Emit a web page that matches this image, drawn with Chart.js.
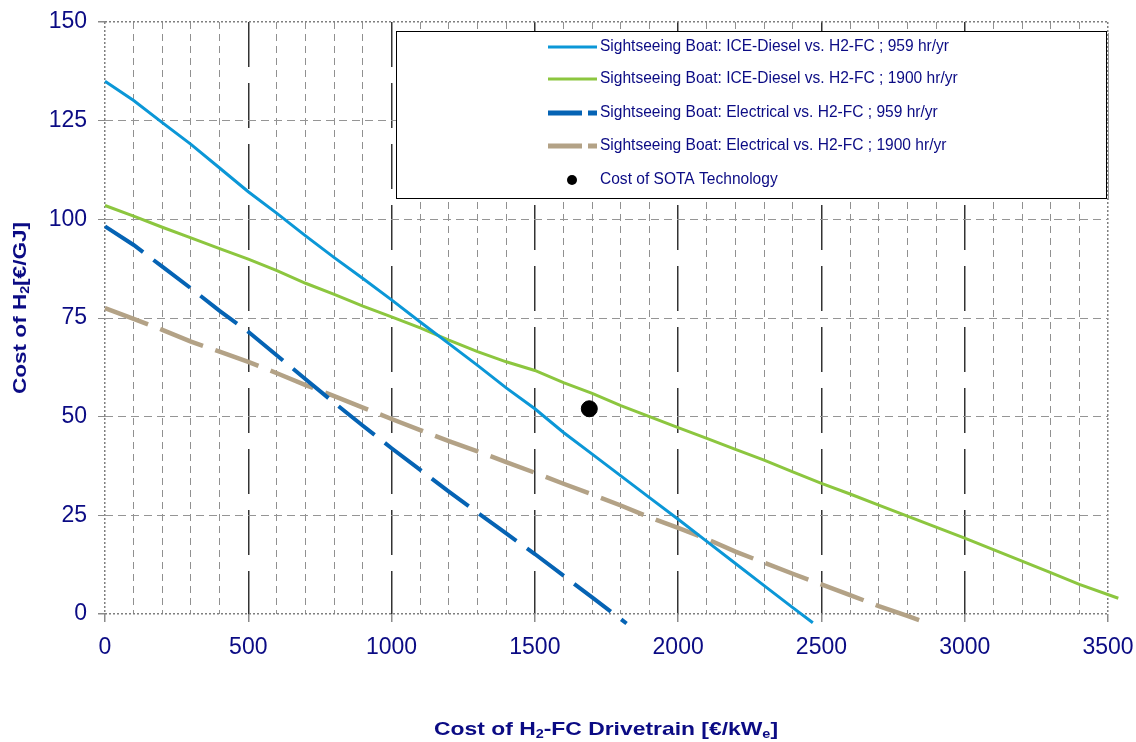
<!DOCTYPE html>
<html><head><meta charset="utf-8">
<script src="https://cdn.jsdelivr.net/npm/chart.js@4.4.1/dist/chart.umd.min.js"></script>
<style>html,body{margin:0;padding:0;background:#fff}#wrap{width:1136px;height:742px;position:relative}</style>
</head><body><div id="wrap"><canvas id="c" width="1136" height="742"></canvas></div>
<script>
// ---- data ----
const seriesLabels = [
  "Sightseeing Boat: ICE-Diesel vs. H2-FC ; 959 hr/yr",
  "Sightseeing Boat: ICE-Diesel vs. H2-FC ; 1900 hr/yr",
  "Sightseeing Boat: Electrical vs. H2-FC ; 959 hr/yr",
  "Sightseeing Boat: Electrical vs. H2-FC ; 1900 hr/yr",
  "Cost of SOTA Technology"
];
const xDiesel959 = [0,100,200,300,400,500,600,700,800,900,1000,1100,1200,1300,1400,1500,1600,1700,1800,1900,2000,2100,2200,2300,2400,2470];
const yDiesel959 = [135,130.1,124.5,119,113,107,101.5,95.8,90.3,85,79.6,74,68.5,63,57.3,52,46,40.5,35,29.5,24,18.4,12.8,7.2,1.6,-2.2];
const xDiesel1900 = [0,100,200,300,400,500,600,700,800,900,1000,1100,1200,1300,1400,1500,1600,1700,1800,1900,2000,2100,2200,2300,2400,2500,2600,2700,2800,2900,3000,3100,3200,3300,3400,3536];
const yDiesel1900 = [103.5,100.8,98,95.3,92.6,89.9,87,83.8,81,78,75.3,72.5,69.4,66.5,63.9,61.7,58.6,55.9,52.8,50,47.2,44.5,41.7,39,36,33.1,30.4,27.6,24.8,22,19.2,16.3,13.4,10.5,7.5,4.0];
const xElec959 = [0,100,200,300,400,500,600,700,800,900,1000,1100,1200,1300,1400,1500,1600,1700,1820];
const yElec959 = [98.2,93.5,88,82.5,76.8,71.5,65.5,59.5,53.5,47.7,42,36.5,31,25.7,20.4,15.2,9.7,4.2,-2.4];
const xElec1900 = [0,100,200,300,400,500,600,700,800,900,1000,1100,1200,1300,1400,1500,1600,1700,1800,1900,2000,2100,2200,2300,2400,2500,2600,2700,2800,2870];
const yElec1900 = [77.5,74.8,72,69,66.5,63.9,61,58,55.2,52.3,49.4,46.6,43.8,41.2,38.5,35.8,33,30.3,27.5,24.5,21.8,19,15.8,13,10.2,7.5,4.8,2,-0.5,-2.3];
const sotaX = [1690];
const sotaY = [52];
const xTickLabels = ["0","500","1000","1500","2000","2500","3000","3500"];
const yTickLabels = ["0","25","50","75","100","125","150"];
const xTitleParts = [["Cost of H",0],["2",1],["-FC Drivetrain [€/kW",0],["e",1],["]",0]];
const yTitleParts = [["Cost of H",0],["2",1],["[€/GJ]",0]];

const zip = (xs, ys) => xs.map((x, i) => ({x: x, y: ys[i]}));
const NAVY = '#0b0b84';
const FONT = '"Liberation Sans", Arial, sans-serif';
const clipBox = {left: 4, top: 4, right: 14, bottom: 12};

// draws title text with subscripts, stretched along its reading direction to a target length
function drawRich(ctx, parts, cx, cy, target) {
  const big = 'bold 19px ' + FONT, small = 'bold 12px ' + FONT;
  let w = 0;
  parts.forEach(p => { ctx.font = p[1] ? small : big; w += ctx.measureText(p[0]).width; });
  const sx = target / w;
  ctx.save();
  ctx.translate(cx, cy);
  ctx.scale(sx, 1);
  let x = -w / 2;
  ctx.textBaseline = 'middle';
  ctx.textAlign = 'left';
  parts.forEach(p => {
    ctx.font = p[1] ? small : big;
    ctx.fillText(p[0], x, p[1] ? 5 : 0);
    x += ctx.measureText(p[0]).width;
  });
  ctx.restore();
}

const overlay = {
  id: 'overlay',
  afterDatasetsDraw(chart) {
    const ctx = chart.ctx;
    ctx.save();
    const L = 396, T = 31, R = 1106, B = 198;
    ctx.fillStyle = '#fff';
    ctx.fillRect(L, T, R - L, B - T);
    ctx.strokeStyle = '#000';
    ctx.lineWidth = 1;
    ctx.strokeRect(L + 0.5, T + 0.5, R - L, B - T);
    ctx.strokeStyle = '#9a9a9a';
    ctx.beginPath(); ctx.moveTo(R + 2.5, T + 2); ctx.lineTo(R + 2.5, B + 2); ctx.stroke();
    const rows = [47, 79, 113, 146, 180];
    ctx.font = '16px ' + FONT;
    const sx = 349 / ctx.measureText(chart.data.datasets[0].label).width;
    chart.data.datasets.forEach((ds, i) => {
      const y = rows[i];
      if (ds.type === 'scatter') {
        ctx.fillStyle = '#000';
        ctx.beginPath(); ctx.arc(572, y, 5, 0, Math.PI * 2); ctx.fill();
      } else {
        ctx.strokeStyle = ds.borderColor;
        ctx.lineWidth = ds.borderDash ? 5 : 3;
        ctx.setLineDash(ds.borderDash ? [34, 6] : []);
        ctx.beginPath(); ctx.moveTo(548, y); ctx.lineTo(597, y); ctx.stroke();
        ctx.setLineDash([]);
      }
      ctx.save();
      ctx.fillStyle = NAVY;
      ctx.font = '16px ' + FONT;
      ctx.textBaseline = 'middle';
      ctx.textAlign = 'left';
      ctx.translate(600, y);
      ctx.scale(sx, 1);
      ctx.fillText(ds.label, 0, 0);
      ctx.restore();
    });
    ctx.restore();
  },
  afterDraw(chart) {
    const ctx = chart.ctx;
    ctx.save();
    ctx.fillStyle = NAVY;
    drawRich(ctx, xTitleParts, 606, 730, 344);
    ctx.translate(21, 308);
    ctx.rotate(-Math.PI / 2);
    drawRich(ctx, yTitleParts, 0, 0, 172);
    ctx.restore();
  }
};

const xMax = 3500, yMax = 150;
new Chart(document.getElementById('c'), {
  type: 'line',
  data: {
    datasets: [
      {label: seriesLabels[0], data: zip(xDiesel959, yDiesel959), borderColor: '#0b97d7', borderWidth: 3, pointRadius: 0, tension: 0, clip: clipBox},
      {label: seriesLabels[1], data: zip(xDiesel1900, yDiesel1900), borderColor: '#8cc63f', borderWidth: 3, pointRadius: 0, tension: 0, clip: clipBox},
      {label: seriesLabels[2], data: zip(xElec959, yElec959), borderColor: '#0563b4', borderWidth: 4, borderDash: [46, 13], pointRadius: 0, tension: 0, clip: clipBox},
      {label: seriesLabels[3], data: zip(xElec1900, yElec1900), borderColor: '#b3a286', borderWidth: 4.5, borderDash: [46, 13], pointRadius: 0, tension: 0, clip: clipBox},
      {type: 'scatter', label: seriesLabels[4], data: zip(sotaX, sotaY), backgroundColor: '#000', borderColor: '#000', pointRadius: 8, showLine: false}
    ]
  },
  options: {
    responsive: false,
    animation: false,
    layout: {padding: {top: 22, right: 28, left: 0, bottom: 0}},
    plugins: {legend: {display: false}, tooltip: {enabled: false}},
    scales: {
      x: {
        type: 'linear', min: 0, max: xMax,
        afterFit: s => { s.height = 128; s.paddingLeft = 0; s.paddingRight = 0; },
        ticks: {
          stepSize: 100, autoSkip: false, maxRotation: 0, padding: 12,
          color: NAVY, font: {family: FONT, size: 23},
          callback: v => (v % 500 === 0 ? xTickLabels[v / 500] : '')
        },
        grid: {
          tickLength: 8,
          color: c => { const v = c.tick ? c.tick.value : -1; if (v === 0 || v === xMax) return '#7f7f7f'; if (v % 500 === 0) return '#333'; return '#909090'; },
          lineWidth: c => { const v = c.tick ? c.tick.value : -1; if (v === 0 || v === xMax) return 1.5; if (v % 500 === 0) return 1.5; return 1; },
          tickColor: c => { const v = c.tick ? c.tick.value : -1; return v % 500 === 0 ? '#8a8a8a' : 'rgba(0,0,0,0)'; }
        },
        border: {
          display: false,
          dash: c => { if (!c.tick) return []; const v = c.tick.value; if (v === 0 || v === xMax) return [2, 2]; if (v % 500 === 0) return [45, 16]; return [7, 5]; }
        }
      },
      y: {
        type: 'linear', min: 0, max: yMax,
        afterFit: s => { s.width = 105; s.paddingTop = 0; s.paddingBottom = 0; },
        ticks: {
          stepSize: 25, padding: 11,
          color: NAVY, font: {family: FONT, size: 23},
          callback: v => yTickLabels[v / 25]
        },
        grid: {
          tickLength: 7,
          color: c => { const v = c.tick ? c.tick.value : -1; return (v === 0 || v === yMax) ? '#7f7f7f' : '#959595'; },
          lineWidth: c => { const v = c.tick ? c.tick.value : -1; return (v === 0 || v === yMax) ? 1.5 : 1; },
          tickColor: '#8a8a8a'
        },
        border: {
          display: false,
          dash: c => { if (!c.tick) return []; const v = c.tick.value; if (v === 0 || v === yMax) return [2, 2]; return [8, 5]; }
        }
      }
    }
  },
  plugins: [overlay]
});
</script>
</body></html>
